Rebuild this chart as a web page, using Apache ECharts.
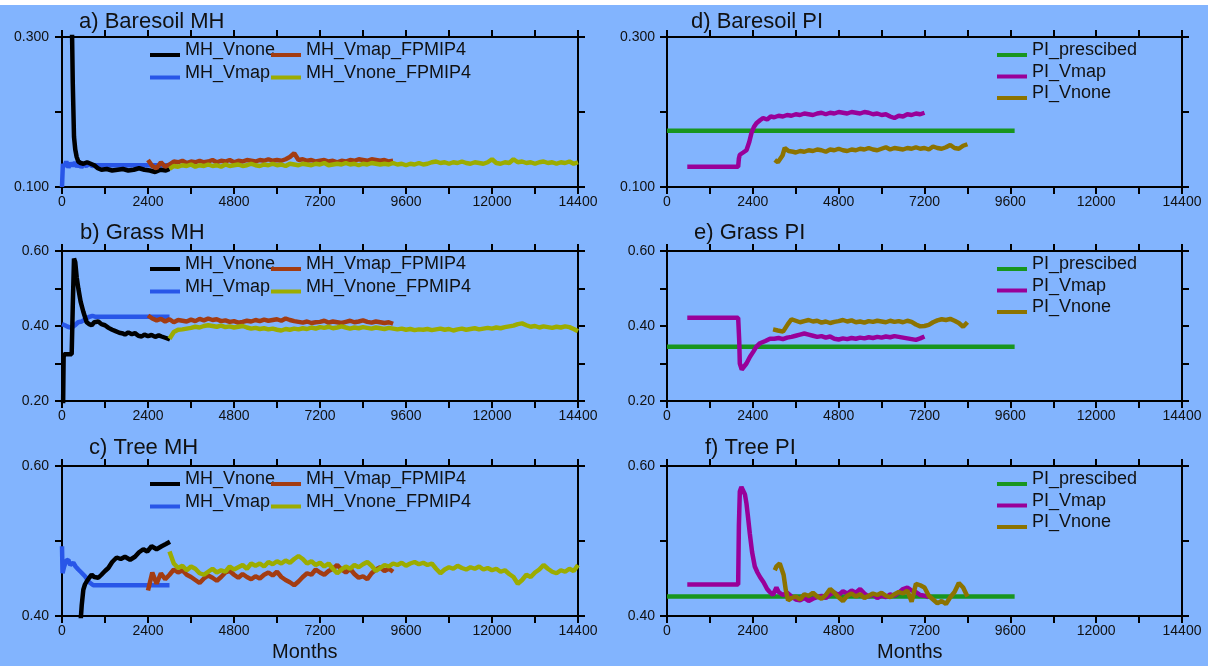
<!DOCTYPE html>
<html>
<head>
<meta charset="utf-8">
<title>MH / PI</title>
<script src="https://cdn.jsdelivr.net/npm/echarts@6/dist/echarts.min.js"></script>
<style>
  html, body { margin: 0; padding: 0; background: #fff; }
  #chart { width: 1208px; height: 666px; }
</style>
</head>
<body>
<div id="chart"></div>
<script>
// months between points of the long noisy runs
const step = 120;
const xLabels = ['0', '2400', '4800', '7200', '9600', '12000', '14400'];
const aYLabels = ['0.100', '0.300'];
const bYLabels = ['0.20', '0.40', '0.60'];
const cYLabels = ['0.40', '0.60'];

// a) Baresoil MH
const aVnone = [[0, 0.35], [270, 0.34], [300, 0.24], [335, 0.167], [370, 0.150], [410, 0.140], [455, 0.134], [520, 0.132],
  [600, 0.131], [700, 0.133], [800, 0.131], [900, 0.129], [1000, 0.125], [1100, 0.123], [1250, 0.124], [1400, 0.122],
  [1550, 0.123], [1700, 0.124], [1850, 0.122], [2000, 0.123], [2150, 0.125], [2300, 0.123], [2450, 0.122], [2600, 0.120],
  [2750, 0.123], [2900, 0.122], [3000, 0.124]];
const aVmap = [[0, 0.100], [25, 0.131], [60, 0.127], [120, 0.134], [180, 0.126], [240, 0.132], [300, 0.128], [360, 0.133],
  [420, 0.127], [480, 0.131], [540, 0.126], [600, 0.130], [680, 0.128], [760, 0.131], [840, 0.128], [920, 0.129], [3000, 0.129]];
const aVmapFP = [0.136, 0.128, 0.125, 0.133, 0.127, 0.130, 0.134, 0.133, 0.135, 0.132,
  0.134, 0.133, 0.135, 0.133, 0.134, 0.136, 0.133, 0.135, 0.134, 0.136,
  0.133, 0.135, 0.134, 0.136, 0.135, 0.134, 0.136, 0.135, 0.137, 0.135,
  0.136, 0.135, 0.137, 0.140, 0.145, 0.136, 0.137, 0.135, 0.136, 0.134,
  0.135, 0.136, 0.134, 0.135, 0.133, 0.135, 0.134, 0.136, 0.135, 0.137,
  0.136, 0.135, 0.137, 0.136, 0.135, 0.136, 0.134, 0.135];
const aVnoneFP = [0.124, 0.128, 0.127, 0.129, 0.128, 0.130, 0.127, 0.129, 0.128, 0.130,
  0.128, 0.129, 0.127, 0.130, 0.128, 0.129, 0.130, 0.128, 0.129, 0.131,
  0.129, 0.128, 0.130, 0.129, 0.131, 0.129, 0.130, 0.128, 0.131, 0.130,
  0.129, 0.131, 0.130, 0.129, 0.131, 0.130, 0.132, 0.129, 0.130, 0.131,
  0.130, 0.132, 0.130, 0.131, 0.129, 0.131, 0.130, 0.132, 0.131, 0.130,
  0.131, 0.130, 0.132, 0.130, 0.131, 0.129, 0.131, 0.130, 0.132, 0.130,
  0.131, 0.133, 0.134, 0.132, 0.133, 0.131, 0.133, 0.132, 0.134, 0.132,
  0.131, 0.133, 0.132, 0.131, 0.133, 0.137, 0.132, 0.131, 0.133, 0.132,
  0.137, 0.133, 0.134, 0.132, 0.133, 0.131, 0.133, 0.134, 0.132, 0.133,
  0.131, 0.133, 0.132, 0.134, 0.131, 0.133];

// b) Grass MH
const bVnone = [[30, 0.18], [45, 0.316], [60, 0.325], [270, 0.325], [300, 0.45], [335, 0.58], [370, 0.57], [410, 0.53],
  [456, 0.50], [520, 0.465], [595, 0.438], [688, 0.41], [760, 0.405], [828, 0.402], [900, 0.41], [1013, 0.412],
  [1100, 0.405], [1200, 0.402], [1300, 0.395], [1400, 0.39], [1478, 0.387], [1600, 0.382], [1700, 0.38], [1757, 0.377],
  [1850, 0.383], [1950, 0.378], [2036, 0.381], [2130, 0.374], [2222, 0.372], [2300, 0.377], [2400, 0.373], [2500, 0.376],
  [2600, 0.371], [2700, 0.375], [2780, 0.372], [2900, 0.368], [3013, 0.364]];
const bVmap = [[0, 0.405], [80, 0.402], [160, 0.398], [270, 0.395], [360, 0.402], [450, 0.41], [549, 0.412], [640, 0.418],
  [750, 0.424], [850, 0.427], [921, 0.425], [3000, 0.425]];
const bVmapFP = [0.428, 0.420, 0.415, 0.419, 0.412, 0.418, 0.410, 0.416, 0.414, 0.412,
  0.417, 0.413, 0.419, 0.415, 0.420, 0.416, 0.418, 0.413, 0.415, 0.411,
  0.413, 0.409, 0.411, 0.414, 0.412, 0.416, 0.413, 0.417, 0.414, 0.416,
  0.418, 0.414, 0.420, 0.416, 0.413, 0.411, 0.409, 0.412, 0.408, 0.410,
  0.411, 0.414, 0.409, 0.412, 0.410, 0.408, 0.411, 0.414, 0.410, 0.412,
  0.415, 0.411, 0.409, 0.412, 0.410, 0.408, 0.410, 0.406];
const bVnoneFP = [0.366, 0.384, 0.390, 0.391, 0.393, 0.395, 0.398, 0.396, 0.400, 0.402,
  0.400, 0.398, 0.401, 0.397, 0.399, 0.396, 0.398, 0.400, 0.396, 0.393,
  0.395, 0.392, 0.394, 0.391, 0.393, 0.390, 0.388, 0.392, 0.390, 0.393,
  0.391, 0.394, 0.392, 0.396, 0.393, 0.397, 0.395, 0.398, 0.394, 0.396,
  0.399, 0.396, 0.393, 0.396, 0.394, 0.397, 0.395, 0.393, 0.396, 0.394,
  0.392, 0.395, 0.393, 0.391, 0.393, 0.390, 0.392, 0.389, 0.391, 0.390,
  0.392, 0.389, 0.391, 0.393, 0.390, 0.392, 0.388, 0.391, 0.393, 0.390,
  0.392, 0.394, 0.391, 0.393, 0.395, 0.393, 0.396, 0.394, 0.397, 0.399,
  0.401, 0.405, 0.407, 0.402, 0.398, 0.400, 0.396, 0.399, 0.397, 0.395,
  0.398, 0.396, 0.399, 0.397, 0.392, 0.386];

// c) Tree MH
const cVnone = [[500, 0.38], [550, 0.414], [595, 0.435], [640, 0.442], [688, 0.446], [760, 0.451], [828, 0.455], [900, 0.452],
  [1013, 0.451], [1100, 0.455], [1200, 0.46], [1293, 0.464], [1400, 0.472], [1525, 0.478], [1640, 0.476], [1757, 0.479],
  [1900, 0.475], [2036, 0.479], [2150, 0.485], [2269, 0.489], [2380, 0.486], [2500, 0.493], [2640, 0.489], [2780, 0.493],
  [2900, 0.496], [3013, 0.499]];
const cVmap = [[0, 0.493], [15, 0.457], [60, 0.466], [120, 0.474], [176, 0.475], [230, 0.468], [316, 0.471], [380, 0.466],
  [455, 0.462], [540, 0.458], [641, 0.453], [760, 0.445], [874, 0.441], [3000, 0.441]];
const cVmapFP = [0.434, 0.458, 0.443, 0.457, 0.449, 0.455, 0.462, 0.458, 0.461, 0.455,
  0.452, 0.448, 0.444, 0.450, 0.454, 0.451, 0.447, 0.452, 0.458, 0.460,
  0.455, 0.451, 0.456, 0.452, 0.449, 0.453, 0.450, 0.455, 0.458, 0.454,
  0.459, 0.452, 0.448, 0.445, 0.441, 0.446, 0.452, 0.457, 0.455, 0.462,
  0.458, 0.455, 0.460, 0.463, 0.468, 0.462, 0.458, 0.463, 0.456, 0.451,
  0.453, 0.449, 0.457, 0.462, 0.465, 0.460, 0.463, 0.459];
const cVnoneFP = [0.486, 0.470, 0.464, 0.467, 0.461, 0.466, 0.463, 0.457, 0.455, 0.459,
  0.463, 0.458, 0.461, 0.459, 0.466, 0.462, 0.465, 0.468, 0.463, 0.470,
  0.467, 0.470, 0.466, 0.472, 0.469, 0.473, 0.470, 0.474, 0.471, 0.476,
  0.480, 0.476, 0.470, 0.473, 0.468, 0.471, 0.466, 0.470, 0.463, 0.457,
  0.462, 0.466, 0.463, 0.468, 0.465, 0.469, 0.472, 0.467, 0.460, 0.464,
  0.468, 0.466, 0.470, 0.468, 0.471, 0.467, 0.470, 0.472, 0.469, 0.471,
  0.468, 0.470, 0.463, 0.457, 0.462, 0.465, 0.463, 0.467, 0.464, 0.462,
  0.465, 0.463, 0.466, 0.462, 0.464, 0.461, 0.463, 0.459, 0.461, 0.456,
  0.452, 0.443, 0.448, 0.455, 0.452, 0.458, 0.462, 0.468, 0.463, 0.459,
  0.457, 0.461, 0.459, 0.463, 0.460, 0.468];

// prescribed PI (constant) and its run length
const presEnd = 9720;
const dPres = 0.175;
const ePres = 0.345;
const fPres = 0.426;

// d) Baresoil PI
const dVmapHead = [[567, 0.127], [1990, 0.127], [2010, 0.138], [2036, 0.143], [2130, 0.146], [2222, 0.149], [2300, 0.160],
  [2362, 0.172], [2430, 0.180], [2500, 0.185], [2600, 0.189], [2687, 0.192], [2800, 0.190], [2900, 0.194]];
const dVmap = [0.193, 0.195, 0.194, 0.196, 0.195, 0.197, 0.196, 0.198, 0.197, 0.196,
  0.198, 0.199, 0.197, 0.199, 0.198, 0.200, 0.199, 0.198, 0.200, 0.199,
  0.198, 0.200, 0.199, 0.197, 0.198, 0.196, 0.197, 0.194, 0.192, 0.195,
  0.194, 0.197, 0.196, 0.198, 0.197, 0.199];
const dVnoneHead = [[3013, 0.136], [3100, 0.133], [3153, 0.131], [3230, 0.142], [3292, 0.152], [3400, 0.148], [3525, 0.147]];
const dVnone = [0.146, 0.148, 0.147, 0.149, 0.148, 0.150, 0.149, 0.147, 0.150, 0.149,
  0.151, 0.149, 0.148, 0.150, 0.149, 0.151, 0.150, 0.152, 0.150, 0.149,
  0.151, 0.153, 0.150, 0.152, 0.151, 0.150, 0.152, 0.151, 0.153, 0.151,
  0.152, 0.150, 0.154, 0.152, 0.151, 0.153, 0.156, 0.152, 0.151, 0.155,
  0.157];

// e) Grass PI
const eVmapHead = [[567, 0.422], [1990, 0.422], [2020, 0.36], [2036, 0.30], [2090, 0.284], [2130, 0.281], [2222, 0.30],
  [2320, 0.318], [2410, 0.331], [2500, 0.345], [2600, 0.354], [2750, 0.360], [2880, 0.366]];
const eVmap = [0.366, 0.368, 0.365, 0.369, 0.371, 0.374, 0.377, 0.380, 0.377, 0.374,
  0.371, 0.373, 0.369, 0.372, 0.366, 0.364, 0.367, 0.365, 0.368, 0.366,
  0.369, 0.367, 0.370, 0.368, 0.371, 0.369, 0.372, 0.370, 0.373, 0.371,
  0.369, 0.367, 0.365, 0.363, 0.367, 0.372];
const eVnoneHead = [[2966, 0.391], [3100, 0.388], [3245, 0.385], [3380, 0.405], [3480, 0.418]];
const eVnone = [0.414, 0.410, 0.413, 0.416, 0.412, 0.414, 0.409, 0.412, 0.408, 0.411,
  0.413, 0.416, 0.412, 0.415, 0.410, 0.412, 0.409, 0.413, 0.411, 0.414,
  0.412, 0.410, 0.414, 0.411, 0.413, 0.410, 0.414, 0.411, 0.404, 0.399,
  0.400, 0.403, 0.410, 0.415, 0.418, 0.416, 0.419, 0.414, 0.408, 0.398,
  0.410];

// f) Tree PI
const fVmapHead = [[567, 0.442], [1990, 0.442], [2010, 0.52], [2036, 0.566], [2080, 0.572], [2130, 0.570], [2180, 0.562],
  [2222, 0.55], [2270, 0.53], [2315, 0.51], [2380, 0.485], [2455, 0.466], [2530, 0.458], [2600, 0.452], [2700, 0.445],
  [2800, 0.436], [2873, 0.432], [2960, 0.428], [3060, 0.438]];
const fVmap = [0.432, 0.428, 0.431, 0.426, 0.422, 0.421, 0.424, 0.420, 0.423, 0.425,
  0.427, 0.424, 0.429, 0.431, 0.428, 0.433, 0.430, 0.434, 0.431, 0.436,
  0.430, 0.426, 0.429, 0.424, 0.427, 0.425, 0.429, 0.427, 0.431, 0.436,
  0.438, 0.434, 0.432, 0.428, 0.427, 0.425];
const fVnoneHead = [[3013, 0.461], [3060, 0.466], [3153, 0.470], [3200, 0.472], [3260, 0.455], [3320, 0.435], [3385, 0.421]];
const fVnone = [0.424, 0.426, 0.422, 0.429, 0.427, 0.431, 0.426, 0.423, 0.428, 0.436,
  0.431, 0.425, 0.420, 0.427, 0.430, 0.426, 0.429, 0.424, 0.427, 0.430,
  0.428, 0.431, 0.427, 0.425, 0.429, 0.432, 0.430, 0.434, 0.419, 0.443,
  0.441, 0.438, 0.427, 0.422, 0.417, 0.420, 0.416, 0.425, 0.432, 0.444,
  0.438, 0.426];

function seq(start, vals) {
  return vals.map((v, i) => [start + i * step, v]);
}

const colors = {
  MH_Vnone: '#000000',
  MH_Vmap: '#2856e8',
  MH_Vmap_FPMIP4: '#a33c12',
  MH_Vnone_FPMIP4: '#9cac00',
  PI_prescibed: '#18961e',
  PI_Vmap: '#990099',
  PI_Vnone: '#8c7300'
};

const panels = [
  { title: 'a) Baresoil MH', tx: 79, ty: 11, col: 0, row: 0, y: [0.1, 0.3], yl: aYLabels,
    lines: [['MH_Vmap', aVmap], ['MH_Vnone', aVnone], ['MH_Vmap_FPMIP4', seq(2400, aVmapFP)], ['MH_Vnone_FPMIP4', seq(3000, aVnoneFP)]] },
  { title: 'b) Grass MH', tx: 80, ty: 222, col: 0, row: 1, y: [0.2, 0.6], yl: bYLabels,
    lines: [['MH_Vmap', bVmap], ['MH_Vnone', bVnone], ['MH_Vmap_FPMIP4', seq(2400, bVmapFP)], ['MH_Vnone_FPMIP4', seq(3000, bVnoneFP)]] },
  { title: 'c) Tree MH', tx: 89, ty: 437, col: 0, row: 2, y: [0.4, 0.6], yl: cYLabels,
    lines: [['MH_Vmap', cVmap], ['MH_Vnone', cVnone], ['MH_Vmap_FPMIP4', seq(2400, cVmapFP)], ['MH_Vnone_FPMIP4', seq(3000, cVnoneFP)]] },
  { title: 'd) Baresoil PI', tx: 691, ty: 11, col: 1, row: 0, y: [0.1, 0.3], yl: aYLabels,
    lines: [['PI_prescibed', [[0, dPres], [presEnd, dPres]]], ['PI_Vmap', dVmapHead.concat(seq(3000, dVmap))], ['PI_Vnone', dVnoneHead.concat(seq(3600, dVnone))]] },
  { title: 'e) Grass PI', tx: 694, ty: 222, col: 1, row: 1, y: [0.2, 0.6], yl: bYLabels,
    lines: [['PI_prescibed', [[0, ePres], [presEnd, ePres]]], ['PI_Vmap', eVmapHead.concat(seq(3000, eVmap))], ['PI_Vnone', eVnoneHead.concat(seq(3600, eVnone))]] },
  { title: 'f) Tree PI', tx: 705, ty: 437, col: 1, row: 2, y: [0.4, 0.6], yl: cYLabels,
    lines: [['PI_prescibed', [[0, fPres], [presEnd, fPres]]], ['PI_Vmap', fVmapHead.concat(seq(3120, fVmap))], ['PI_Vnone', fVnoneHead.concat(seq(3480, fVnone))]] }
];

const colLeft = [62, 667];
const colWidth = [516, 515];
const rowTop = [37, 251, 466];
const plotH = 150;
const font = 'Liberation Sans, Arial, sans-serif';
// line sample sits under the text middle, like the original key
const keyIcon = 'path://M0,0L30,0L30,0.01L0,0.01Z M0,9L30,9L30,13L0,13Z';

let grid = [], xAxis = [], yAxis = [], series = [], legend = [];
let title = [];

panels.forEach((p, g) => {
  const top = rowTop[p.row];
  grid.push({ left: colLeft[p.col], top: top, width: colWidth[p.col], height: plotH });
  title.push({ text: p.title, left: p.tx, top: p.ty - 0.5, padding: 0,
    textStyle: { fontSize: 22, fontWeight: 'normal', color: '#111', fontFamily: font } });

  const axisLine = { onZero: false, lineStyle: { color: '#000', width: 2 } };
  const axisTick = { inside: false, length: 7, lineStyle: { color: '#000', width: 2 } };
  xAxis.push({
    type: 'value', gridIndex: g, position: 'bottom', min: 0, max: 14400, interval: 1200,
    axisLine: axisLine, axisTick: axisTick, splitLine: { show: false },
    axisLabel: { margin: 8, fontSize: 14, color: '#111', fontFamily: font,
      formatter: v => (xLabels.indexOf(String(v)) >= 0 ? String(v) : '') }
  });
  xAxis.push({
    type: 'value', gridIndex: g, position: 'top', min: 0, max: 14400, interval: 1200,
    axisLine: axisLine, axisTick: axisTick, splitLine: { show: false }, axisLabel: { show: false }
  });
  yAxis.push({
    type: 'value', gridIndex: g, position: 'left', min: p.y[0], max: p.y[1], interval: 0.1,
    axisLine: axisLine, axisTick: axisTick, splitLine: { show: false },
    axisLabel: { margin: p.col === 0 ? 13 : 12, fontSize: 14, color: '#111', fontFamily: font,
      formatter: v => p.yl.find(l => Math.abs(parseFloat(l) - v) < 1e-6) || '' }
  });
  yAxis.push({
    type: 'value', gridIndex: g, position: 'right', min: p.y[0], max: p.y[1], interval: 0.1,
    axisLine: axisLine, axisTick: axisTick, splitLine: { show: false }, axisLabel: { show: false }
  });

  p.lines.forEach((l, k) => {
    series.push({
      name: l[0], type: 'line', xAxisIndex: 2 * g, yAxisIndex: 2 * g,
      data: l[1], showSymbol: false, symbol: 'none', clip: true, z: 2 + k,
      lineStyle: { width: 4.5, color: colors[l[0]] },
      itemStyle: { color: colors[l[0]] }
    });
  });

  const keyBase = {
    orient: 'vertical', top: top + 4.5, padding: 0, itemWidth: 30, itemHeight: 13,
    icon: keyIcon, selectedMode: false,
    textStyle: { fontSize: 18, lineHeight: 18, color: '#111', fontFamily: font }
  };
  if (p.col === 0) {
    legend.push(Object.assign({}, keyBase, { left: 150, itemGap: 4.5, data: ['MH_Vnone', 'MH_Vmap'] }));
    legend.push(Object.assign({}, keyBase, { left: 271, itemGap: 4.5, data: ['MH_Vmap_FPMIP4', 'MH_Vnone_FPMIP4'] }));
  } else {
    legend.push(Object.assign({}, keyBase, { left: 997, itemGap: 3.5, data: ['PI_prescibed', 'PI_Vmap', 'PI_Vnone'] }));
  }
});

title.push({ text: 'Months', left: 272, top: 642, padding: 0,
  textStyle: { fontSize: 20, fontWeight: 'normal', color: '#111', fontFamily: font } });
title.push({ text: 'Months', left: 877, top: 642, padding: 0,
  textStyle: { fontSize: 20, fontWeight: 'normal', color: '#111', fontFamily: font } });

let myChart = echarts.init(document.getElementById('chart'));
let option = {
  backgroundColor: '#82b4fe',
  animation: false,
  graphic: [{ type: 'rect', left: 0, top: 0, shape: { width: 1208, height: 5 }, style: { fill: '#ffffff' } }],
  title: title,
  legend: legend,
  grid: grid,
  xAxis: xAxis,
  yAxis: yAxis,
  series: series
};
myChart.setOption(option);
</script>
</body>
</html>
